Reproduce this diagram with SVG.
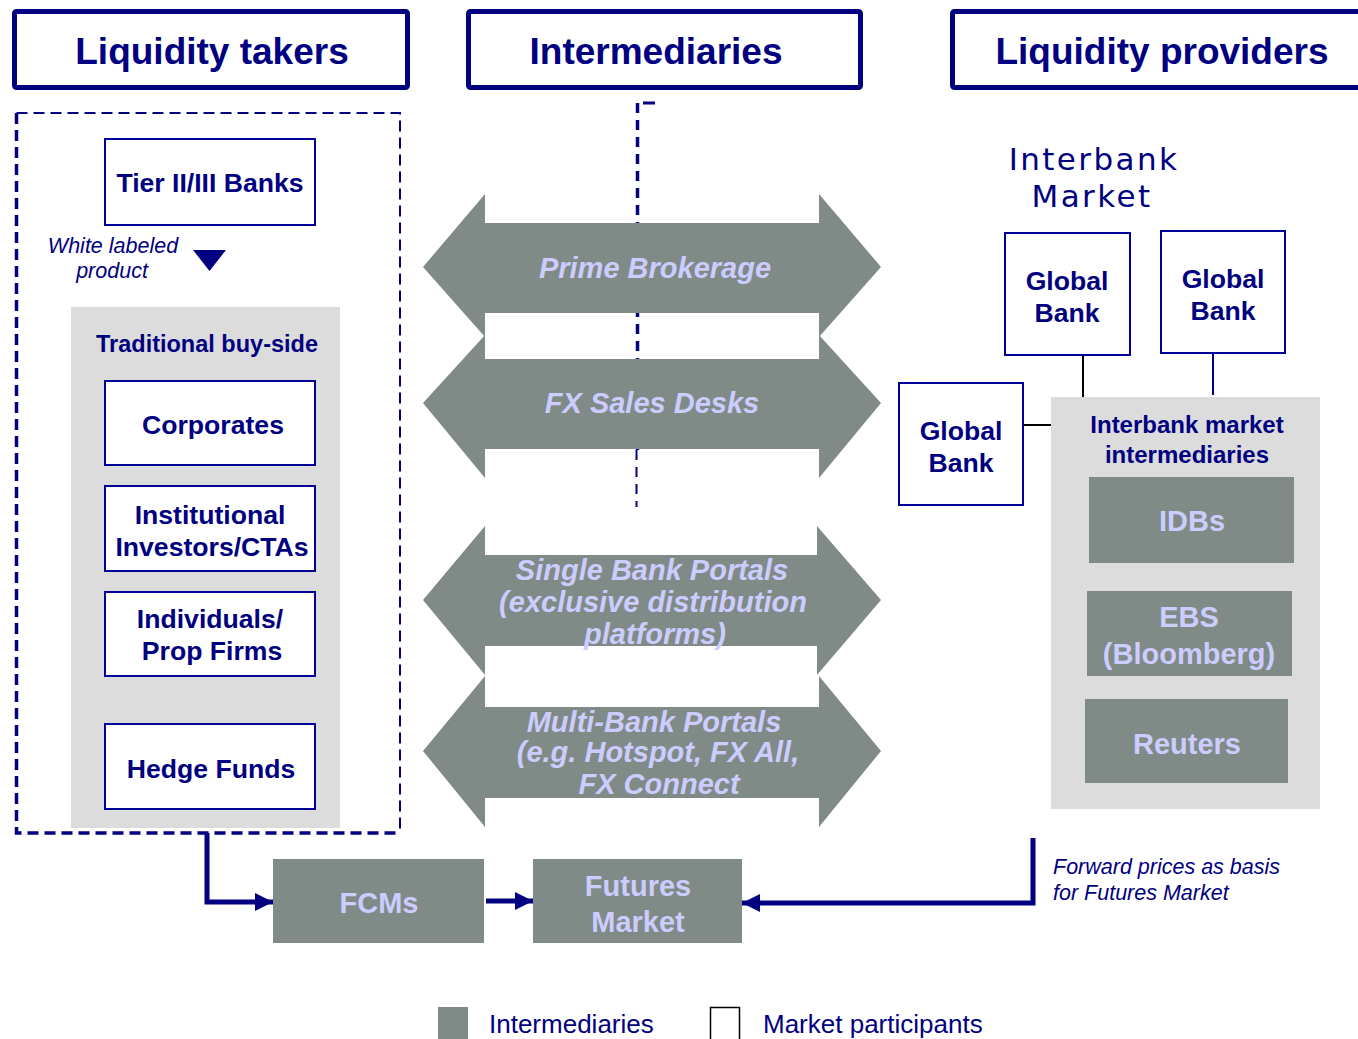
<svg xmlns="http://www.w3.org/2000/svg" width="1358" height="1039" viewBox="0 0 1358 1039">
<style>
text{font-family:"Liberation Sans",Arial,sans-serif;fill:#000080}
.hdr{font-size:37px;font-weight:bold;text-anchor:middle}
.hbox{fill:#fff;stroke:#000080;stroke-width:5}
.node{fill:#fff;stroke:#000099;stroke-width:2}
.nt{font-size:26.6px;font-weight:bold;text-anchor:middle}
.panel{fill:#dcdcdc}
.gray{fill:#808b87}
.gt{font-size:29px;font-weight:bold;text-anchor:middle;fill:#ccccff}
.at{font-size:29px;font-weight:bold;font-style:italic;text-anchor:middle;fill:#ccccff}
.it{font-size:21.5px;font-style:italic}
.conn{fill:none;stroke:#000080;stroke-width:5}
.ib{font-family:"DejaVu Sans",Verdana,sans-serif;font-size:31px;letter-spacing:2.4px;text-anchor:middle}
</style>
<defs>
<marker id="ah" viewBox="0 0 18 18" refX="18" refY="9" markerWidth="18" markerHeight="18" markerUnits="userSpaceOnUse" orient="auto">
<path d="M0,0 L18,9 L0,18 Z" fill="#000080"/>
</marker>
</defs>
<rect width="1358" height="1039" fill="#fff"/>

<g id="header-takers"><rect class="hbox" x="14.5" y="11.5" width="393" height="76" rx="2"/><text class="hdr" x="212" y="64">Liquidity takers</text></g>
<g id="header-intermediaries"><rect class="hbox" x="468.5" y="11.5" width="392" height="76" rx="2"/><text class="hdr" x="656" y="64">Intermediaries</text></g>
<g id="header-providers"><rect class="hbox" x="952.5" y="11.5" width="420" height="76" rx="2"/><text class="hdr" x="1162" y="64">Liquidity providers</text></g>

<g id="takers-frame">
<path d="M16.5,113 V833 H400" fill="none" stroke="#000080" stroke-width="3.5" stroke-dasharray="11 6"/>
<path d="M16.5,113 H400 V833" fill="none" stroke="#000080" stroke-width="2" stroke-dasharray="11 6"/>
</g>

<g id="tier-banks"><rect class="node" x="105" y="139" width="210" height="86"/><text class="nt" x="210" y="192">Tier II/III Banks</text></g>
<g id="white-label"><text class="it" x="113" y="253" text-anchor="middle">White labeled</text><text class="it" x="112" y="278" text-anchor="middle">product</text><path d="M193,250 L226,250 L209.5,271 Z" fill="#000080"/></g>

<g id="buy-side">
<rect class="panel" x="71" y="307" width="269" height="521"/>
<text x="207" y="352" font-size="23.5" font-weight="bold" text-anchor="middle">Traditional buy-side</text>
</g>
<g id="corporates"><rect class="node" x="105" y="381" width="210" height="84"/><text class="nt" x="213" y="434">Corporates</text></g>
<g id="institutional"><rect class="node" x="105" y="486" width="210" height="85"/><text class="nt" x="210" y="524">Institutional</text><text class="nt" x="212" y="556">Investors/CTAs</text></g>
<g id="individuals"><rect class="node" x="105" y="592" width="210" height="84"/><text class="nt" x="210" y="628">Individuals/</text><text class="nt" x="212" y="660">Prop Firms</text></g>
<g id="hedge-funds"><rect class="node" x="105" y="724" width="210" height="85"/><text class="nt" x="211" y="778">Hedge Funds</text></g>

<g id="center-line">
<path d="M637.5,103 V450" stroke="#000080" stroke-width="3.5" stroke-dasharray="10 7" fill="none"/>
<path d="M636.5,450 V507" stroke="#000080" stroke-width="2" stroke-dasharray="10 7" fill="none"/>
<path d="M643,103 H655" stroke="#000080" stroke-width="3"/>
</g>

<g id="prime-brokerage"><path class="gray" d="M423,267 L485,194 L485,223 L819,223 L819,194 L881,267 L819,337 L819,313 L485,313 L485,337 Z"/><text class="at" x="655" y="278">Prime Brokerage</text></g>
<g id="fx-sales"><path class="gray" d="M423,403 L485,335 L485,359 L819,359 L819,335 L881,403 L819,478 L819,449 L485,449 L485,478 Z"/><text class="at" x="652" y="413">FX Sales Desks</text></g>
<g id="single-bank"><path class="gray" d="M423,600 L485,526 L485,555 L817,555 L817,526 L881,600 L817,675 L817,646 L485,646 L485,675 Z"/><text class="at" x="652" y="580">Single Bank Portals</text><text class="at" x="653" y="612">(exclusive distribution</text><text class="at" x="655" y="644">platforms)</text></g>
<g id="multi-bank"><path class="gray" d="M423,751 L485,676 L485,707 L819,707 L819,676 L881,751 L819,827 L819,798 L485,798 L485,827 Z"/><text class="at" x="654" y="732">Multi-Bank Portals</text><text class="at" x="658" y="762">(e.g. Hotspot, FX All,</text><text class="at" x="659" y="794">FX Connect</text></g>

<g id="interbank-title"><text class="ib" x="1094" y="170">Interbank</text><text class="ib" x="1092" y="207">Market</text></g>

<g id="connectors">
<path d="M1083,355 V397" stroke="#000" stroke-width="2"/>
<path d="M1213,353 V395" stroke="#000080" stroke-width="2"/>
<path d="M1023,425 H1052" stroke="#000" stroke-width="2"/>
<path class="conn" d="M207,833 V902 H273" marker-end="url(#ah)"/>
<path class="conn" d="M486,901 H533" marker-end="url(#ah)"/>
<path class="conn" d="M1033,838 V903 H742" marker-end="url(#ah)"/>
</g>

<g id="global-bank-1"><rect class="node" x="1005" y="233" width="125" height="122"/><text class="nt" x="1067" y="290">Global</text><text class="nt" x="1067" y="322">Bank</text></g>
<g id="global-bank-2"><rect class="node" x="1161" y="231" width="124" height="122"/><text class="nt" x="1223" y="288">Global</text><text class="nt" x="1223" y="320">Bank</text></g>
<g id="global-bank-3"><rect class="node" x="899" y="383" width="124" height="122"/><text class="nt" x="961" y="440">Global</text><text class="nt" x="961" y="472">Bank</text></g>

<g id="interbank-intermediaries"><rect class="panel" x="1051" y="397" width="269" height="412"/><text x="1187" y="433" font-size="24" font-weight="bold" text-anchor="middle">Interbank market</text><text x="1187" y="463" font-size="24" font-weight="bold" text-anchor="middle">intermediaries</text></g>
<g id="idbs"><rect class="gray" x="1089" y="477" width="205" height="86"/><text class="gt" x="1192" y="531">IDBs</text></g>
<g id="ebs"><rect class="gray" x="1087" y="591" width="205" height="85"/><text class="gt" x="1189" y="627">EBS</text><text class="gt" x="1189" y="664">(Bloomberg)</text></g>
<g id="reuters"><rect class="gray" x="1085" y="699" width="203" height="84"/><text class="gt" x="1187" y="754">Reuters</text></g>

<g id="fcms"><rect class="gray" x="273" y="859" width="211" height="84"/><text class="gt" x="379" y="913">FCMs</text></g>
<g id="futures-market"><rect class="gray" x="533" y="859" width="209" height="84"/><text class="gt" x="638" y="896">Futures</text><text class="gt" x="638" y="932">Market</text></g>

<g id="forward-note"><text class="it" x="1053" y="874">Forward prices as basis</text><text class="it" x="1053" y="900">for Futures Market</text></g>

<g id="legend">
<rect class="gray" x="438" y="1007" width="30" height="34"/>
<text x="489" y="1033" font-size="26">Intermediaries</text>
<rect x="710.5" y="1007.5" width="29" height="34" fill="#fff" stroke="#000" stroke-width="1.5"/>
<text x="763" y="1033" font-size="26">Market participants</text>
</g>
</svg>
